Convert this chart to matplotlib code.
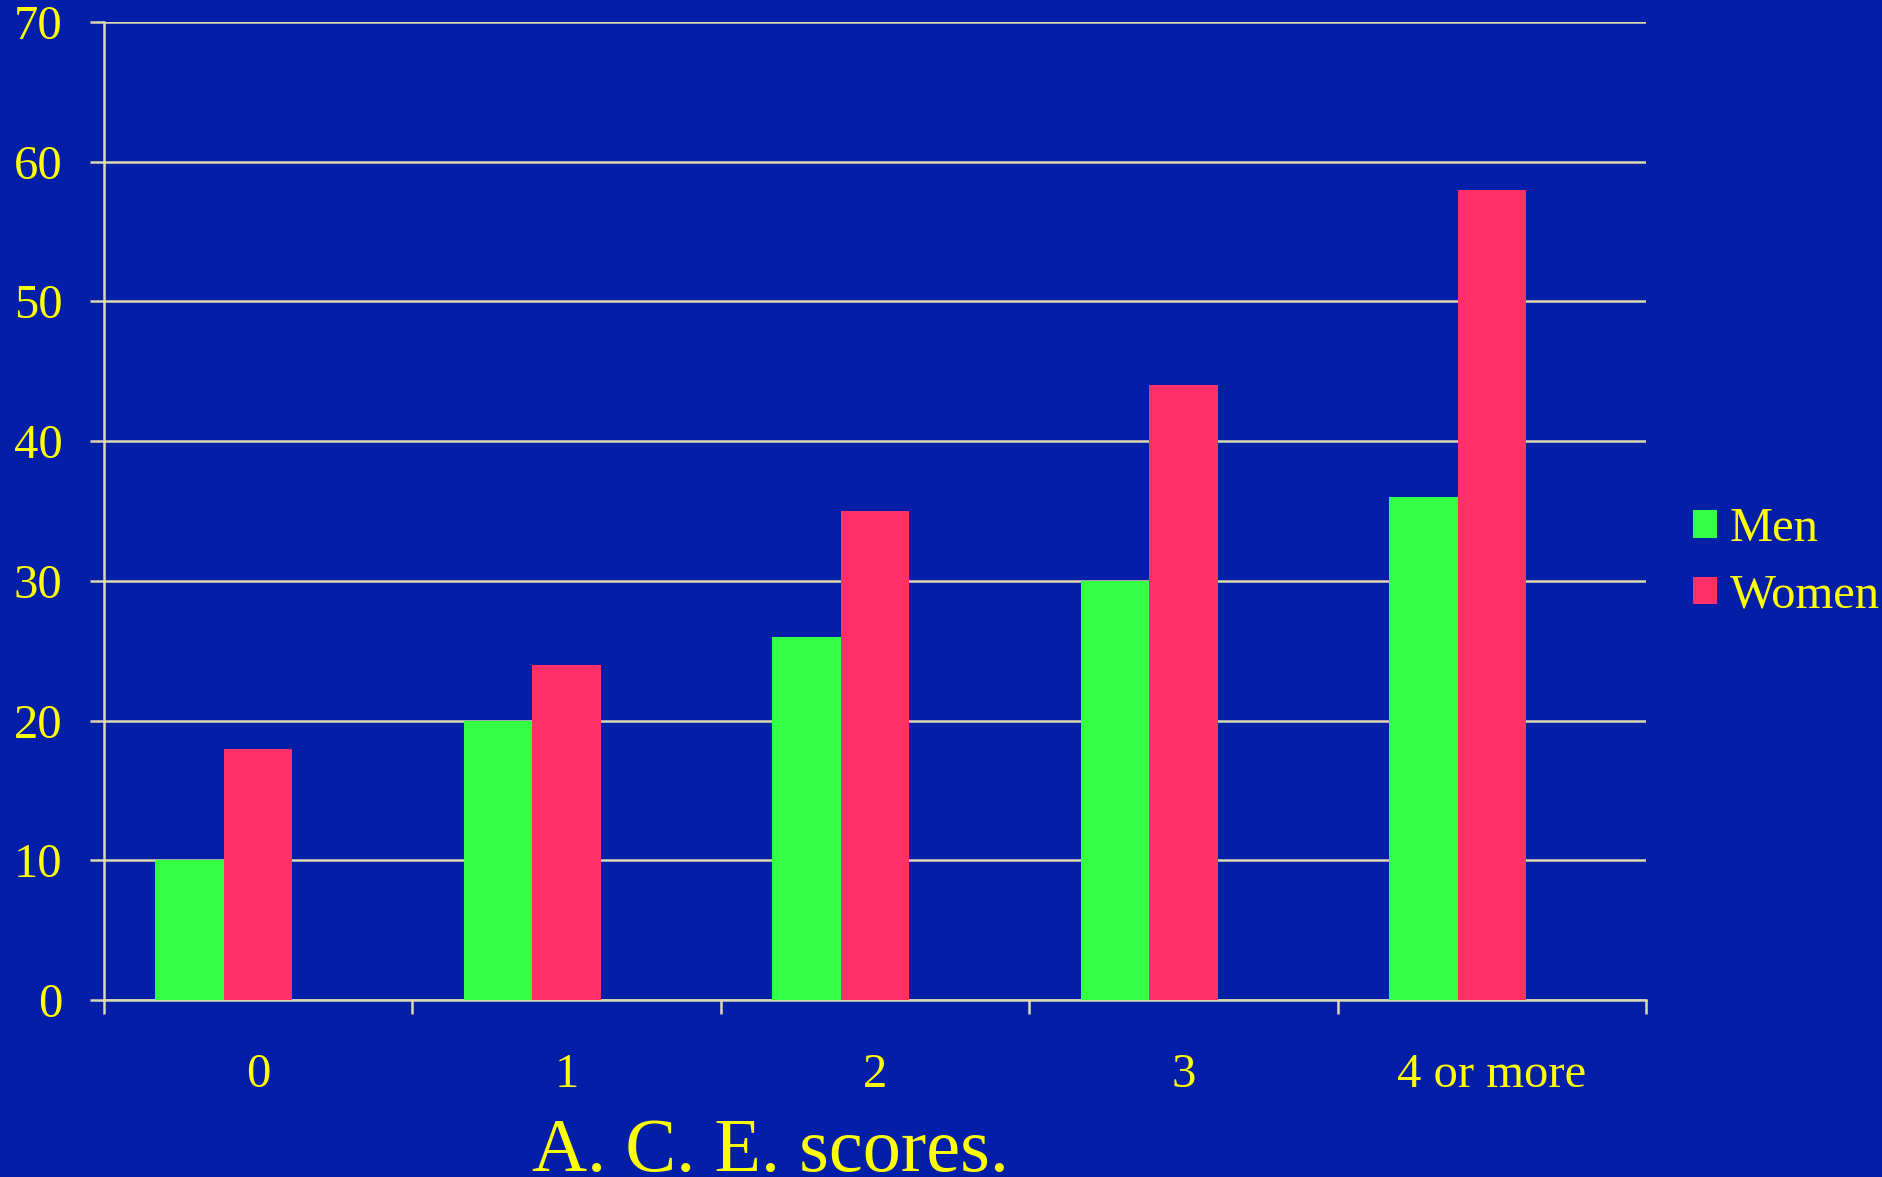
import matplotlib
matplotlib.use("Agg")
import matplotlib.pyplot as plt
from matplotlib.patches import Patch
import numpy as np

CATEGORIES = ["0", "1", "2", "3", "4 or more"]
MEN = [10, 20, 26, 30, 36]
WOMEN = [18, 24, 35, 44, 58]
Y_TICKS = [0, 10, 20, 30, 40, 50, 60, 70]

BG = "#031FA8"
GREEN = "#33FF44"
PINK = "#FF3068"
GRID = "#DCD8B0"
YELLOW = "#FFFF00"

plt.rcParams["font.family"] = ["Liberation Serif", "DejaVu Serif"]

fig = plt.figure(figsize=(18.83, 11.77), dpi=100, facecolor=BG)
ax = fig.add_axes([104 / 1883, 177 / 1177, (1646 - 104) / 1883, (1000 - 22) / 1177])
ax.set_facecolor(BG)

x = np.arange(len(CATEGORIES))
# three slots per group (gap width 150%), the last slot stays empty
w = 1 / 4.5
ax.bar(x - w, MEN, width=w, color=GREEN, linewidth=0, zorder=3)
ax.bar(x, WOMEN, width=w, color=PINK, linewidth=0, zorder=3)

ax.set_xlim(-0.5, len(CATEGORIES) - 0.5)
ax.set_ylim(0, 70)
ax.set_yticks(Y_TICKS)
ax.set_yticklabels([str(v) for v in Y_TICKS])
ax.yaxis.grid(True, color=GRID, linewidth=1.8, zorder=0)
ax.set_axisbelow(True)

# tick marks on category boundaries, labels in the middle
ax.set_xticks(np.arange(-0.5, len(CATEGORIES), 1.0))
ax.set_xticklabels([])
ax.set_xticks(x, minor=True)
ax.set_xticklabels(CATEGORIES, minor=True)
ax.tick_params(axis="x", which="minor", length=0, pad=38, labelsize=35, labelcolor=YELLOW)
ax.tick_params(axis="x", which="major", length=10, width=1.8, color=GRID, direction="out")
ax.tick_params(axis="y", length=10, width=1.8, color=GRID, direction="out",
               pad=20, labelsize=35, labelcolor=YELLOW)

for side in ("top", "right"):
    ax.spines[side].set_visible(False)
for side in ("left", "bottom"):
    ax.spines[side].set_color(GRID)
    ax.spines[side].set_linewidth(1.8)

handles = [Patch(facecolor=GREEN, label="Men"), Patch(facecolor=PINK, label="Women")]
fig.legend(handles=handles, loc="upper left", bbox_to_anchor=(1693 / 1883, 1 - 507 / 1177),
           frameon=False, fontsize=35, labelcolor=YELLOW, handlelength=0.5,
           handleheight=0.5, handletextpad=0.25, labelspacing=0.47, borderpad=0,
           borderaxespad=0)

fig.text(532 / 1883, 6 / 1177, "A. C. E. scores.", color=YELLOW, fontsize=55,
         ha="left", va="baseline")

fig.savefig("out.png", dpi=100, facecolor=BG)
